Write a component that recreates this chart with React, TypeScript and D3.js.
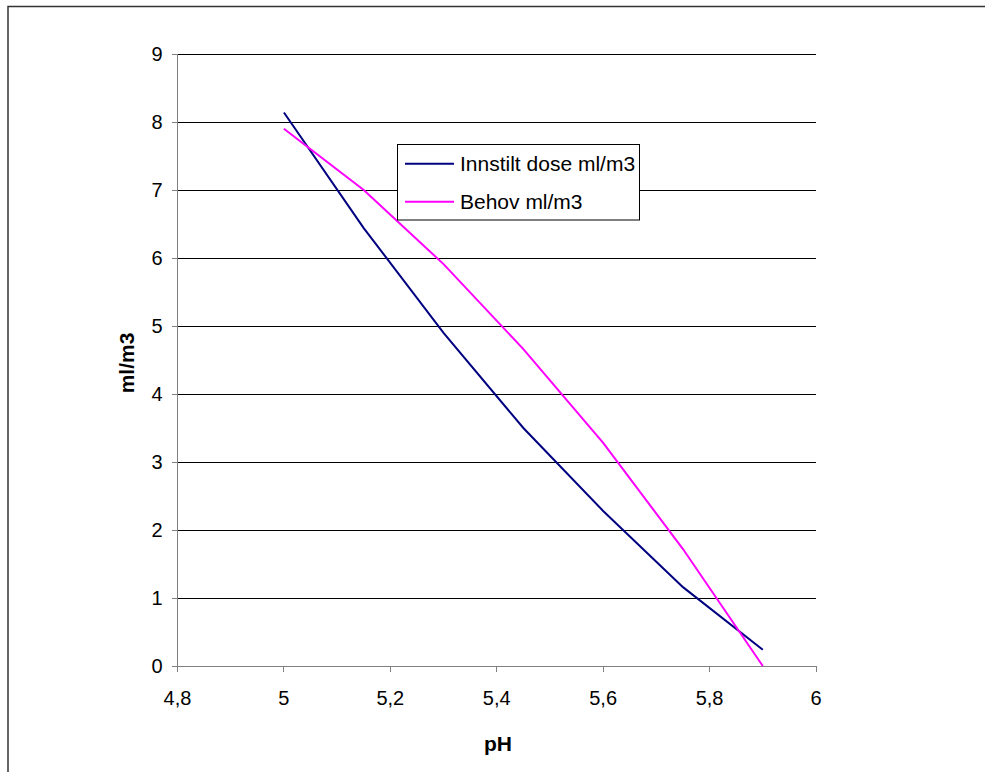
import React from "react";
import * as d3 from "d3";

const phValues = [5.0, 5.15, 5.3, 5.45, 5.6, 5.75, 5.9];
const innstiltDose = [8.14, 6.44, 4.9, 3.5, 2.28, 1.16, 0.24];
const behov = [7.9, 7.0, 5.91, 4.66, 3.28, 1.72, 0.0];
const xTicks = [4.8, 5.0, 5.2, 5.4, 5.6, 5.8, 6.0];
const yTicks = [0, 1, 2, 3, 4, 5, 6, 7, 8, 9];
const seriesNames = ["Innstilt dose ml/m3", "Behov ml/m3"];
const seriesColors = ["#000080", "#FF00FF"];

export default function App() {
  const W = 985, H = 772;
  const x = d3.scaleLinear().domain([4.8, 6]).range([177.5, 816]);
  const y = d3.scaleLinear().domain([0, 9]).range([666, 54]);
  const fmt = (v: number) => (Number.isInteger(v) ? String(v) : v.toFixed(1).replace(".", ","));
  const line = d3.line<[number, number]>().x(d => x(d[0])).y(d => y(d[1]));
  const series = [innstiltDose, behov];
  const font = "Liberation Sans, Arial, sans-serif";
  return (
    <svg width={W} height={H} style={{ position: "absolute", left: 0, top: 0 }} fontFamily={font}>
      <rect x={0} y={0} width={W} height={H} fill="#fff" />
      <rect x={8} y={6.5} width={W + 20} height={H + 20} fill="none" stroke="#333" strokeWidth={1.5} />
      {yTicks.map(t => (
        <line key={"g" + t} x1={x(4.8)} x2={x(6)} y1={y(t)} y2={y(t)} stroke="#000" strokeWidth={1} shapeRendering="crispEdges" />
      ))}
      <line x1={x(4.8)} x2={x(4.8)} y1={y(9)} y2={y(0)} stroke="#808080" strokeWidth={1} shapeRendering="crispEdges" />
      <line x1={x(4.8)} x2={x(6)} y1={y(0)} y2={y(0)} stroke="#808080" strokeWidth={1} shapeRendering="crispEdges" />
      {yTicks.map(t => (
        <g key={"y" + t}>
          <line x1={x(4.8) - 6} x2={x(4.8)} y1={y(t)} y2={y(t)} stroke="#808080" shapeRendering="crispEdges" />
          <text x={x(4.8) - 15} y={y(t)} dy="0.36em" textAnchor="end" fontSize={20}>{t}</text>
        </g>
      ))}
      {xTicks.map(t => (
        <g key={"x" + t}>
          <line x1={x(t)} x2={x(t)} y1={y(0)} y2={y(0) + 6} stroke="#808080" shapeRendering="crispEdges" />
          <text x={x(t)} y={y(0) + 39} textAnchor="middle" fontSize={20}>{fmt(t)}</text>
        </g>
      ))}
      {series.map((s, i) => (
        <path key={"s" + i} d={line(phValues.map((p, j) => [p, s[j]]) as [number, number][]) || ""}
          fill="none" stroke={seriesColors[i]} strokeWidth={2} />
      ))}
      <text x={498} y={751} textAnchor="middle" fontSize={21} fontWeight="bold">pH</text>
      <text transform="translate(134,363) rotate(-90)" textAnchor="middle" fontSize={21} fontWeight="bold">ml/m3</text>
      <rect x={397.5} y={144.5} width={242} height={75.5} fill="#fff" stroke="#000" strokeWidth={1} />
      {seriesNames.map((n, i) => (
        <g key={"l" + i}>
          <line x1={405} x2={454} y1={163.7 + i * 38} y2={163.7 + i * 38} stroke={seriesColors[i]} strokeWidth={2} />
          <text x={460} y={163.7 + i * 38} dy="0.36em" fontSize={21}>{n}</text>
        </g>
      ))}
    </svg>
  );
}
